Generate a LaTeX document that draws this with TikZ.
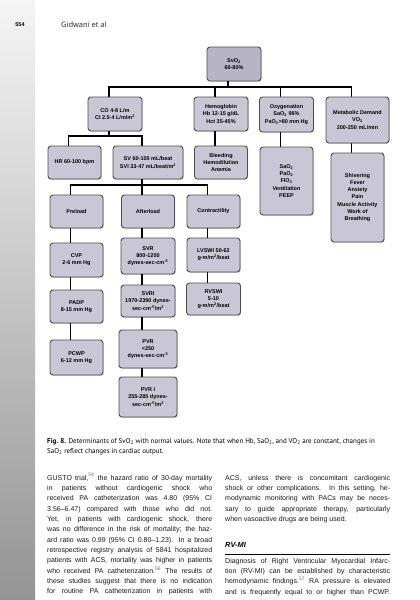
\documentclass[tikz,border=0pt]{standalone}
\usepackage{fontspec}
\setmainfont{Liberation Sans}
\newfontfamily\capfont{PT Sans}
\newfontfamily\headfont{Open Sans}
\usetikzlibrary{shadows}

\definecolor{boxfill}{HTML}{C9C7D5}
\definecolor{topfill}{HTML}{B7B4C6}
\definecolor{boxline}{HTML}{4D4D4D}
\definecolor{refblue}{HTML}{5B6FA5}

\newcommand{\boxfont}{\fontsize{5.5}{7.3}\selectfont\bfseries}
\newcommand{\bodyfont}{\fontsize{7}{10.36}\selectfont}
\newcommand{\dsub}[1]{\textsubscript{#1}}
\newcommand{\usup}[1]{\textsuperscript{#1}}
\newcommand{\refnum}[1]{\textcolor{refblue}{\textsuperscript{#1}}}

\tikzset{
  detbox/.style={draw=boxline, fill=boxfill, line width=0.9pt, rounded corners=3pt,
    align=center, font=\boxfont, inner sep=0pt,
    drop shadow={shadow xshift=0.7pt, shadow yshift=-0.7pt, fill=black!45}},
  conn/.style={line width=1.1pt, black},
  tap/.style={xshift=-6pt},
  bodytext/.style={anchor=base west, inner sep=0pt, text width=165pt, align=justify,
    font=\bodyfont, text=black!90},
}

\begin{document}
\begin{tikzpicture}[x=1pt,y=-1pt]
  \useasboundingbox (0,0) rectangle (420,600);
  \fill[white] (0,0) rectangle (420,600);
  \shade[top color=black!4, bottom color=black!42] (0,0) rectangle (35,600);

  % running head
  \node[font=\fontsize{5.5}{6}\selectfont\bfseries] (pageno) at (20,24.5) {554};
  \node[anchor=base west, inner sep=0pt, font=\headfont\fontsize{7.5}{9}\selectfont, text=black!85] (runhead) at (61,27) {Gidwani et al};

  % top
  \node[detbox, fill=topfill, minimum width=54, minimum height=34] (svo2) at (234,64) {SvO\dsub{2}\\60-80\%};

  % second row
  \node[detbox, minimum width=54, minimum height=34] (co) at (115,114) {CO 4-8 L/m\\CI 2.5-4 L/m/m\usup{2}};
  \node[detbox, minimum width=54, minimum height=34] (hgb) at (221,114) {Hemoglobin\\Hb 12-15 g/dL\\Hct 35-45\%};
  \node[detbox, minimum width=54, minimum height=35] (oxy) at (286.5,114.5) {Oxygenation\\SaO\dsub{2} 96\%\\PaO\dsub{2}>80 mm Hg};
  \node[detbox, minimum width=63, minimum height=46] (meta) at (357.5,120) {Metabolic Demand\\VO\dsub{2}\\200-250 mL/min};

  % third row
  \node[detbox, minimum width=53, minimum height=33] (hr) at (74.5,162.5) {HR 60-100 bpm};
  \node[detbox, minimum width=70, minimum height=33] (sv) at (148,162.5) {SV 60-100 mL/beat\\SVI 33-47 mL/beat/m\usup{2}};
  \node[detbox, minimum width=53, minimum height=33] (bleed) at (221,162.5) {Bleeding\\Hemodilution\\Anemia};
  \node[detbox, minimum width=53, minimum height=68] (sao2) at (286.5,181) {SaO\dsub{2}\\PaO\dsub{2}\\FIO\dsub{2}\\Ventilation\\PEEP};
  \node[detbox, minimum width=53, minimum height=89] (shiv) at (357.5,197.5) {Shivering\\Fever\\Anxiety\\Pain\\Muscle Activity\\Work of\\Breathing};

  % determinants of SV
  \node[detbox, minimum width=53, minimum height=33] (preload) at (76.5,211.5) {Preload};
  \node[detbox, minimum width=53, minimum height=33] (afterload) at (148,211.5) {Afterload};
  \node[detbox, minimum width=53, minimum height=33] (contract) at (213.5,211.5) {Contractility};

  \node[detbox, minimum width=53, minimum height=34] (cvp) at (76.5,260) {CVP\\2-6 mm Hg};
  \node[detbox, minimum width=54, minimum height=36] (svr) at (148,256) {SVR\\800-1200\\dynes-sec-cm\usup{-5}};
  \node[detbox, minimum width=53, minimum height=34] (lvswi) at (213.5,255) {LVSWI 50-62\\g-m/m\usup{2}/beat};

  \node[detbox, minimum width=53, minimum height=33] (padp) at (76.5,306.5) {PADP\\8-15 mm Hg};
  \node[detbox, minimum width=54, minimum height=32] (svri) at (148,301) {SVRI\\1970-2390 dynes-\\sec-cm\usup{-5}/m\usup{2}};
  \node[detbox, minimum width=54, minimum height=32] (rvswi) at (213.5,299) {RVSWI\\5-10\\g-m/m\usup{2}/beat};

  \node[detbox, minimum width=53, minimum height=35] (pcwp) at (76.5,357.5) {PCWP\\6-12 mm Hg};
  \node[detbox, minimum width=58, minimum height=38] (pvr) at (148,349) {PVR\\<250\\dynes-sec-cm\usup{-5}};
  \node[detbox, minimum width=58, minimum height=40] (pvri) at (148,397) {PVR I\\255-285 dynes-\\sec-cm\usup{-5}/m\usup{2}};

  % connectors
  \coordinate (bus1) at (0,87);
  \coordinate (bus2) at (0,136);
  \coordinate (bus3) at (0,185);
  \draw[conn] ([tap]svo2.south) -- ([tap]svo2.south |- bus1);
  \draw[conn] ([tap]co.north) |- ([tap]meta.north |- bus1) -- ([tap]meta.north);
  \draw[conn] ([tap]hgb.north) -- ([tap]hgb.north |- bus1);
  \draw[conn] ([tap]oxy.north) -- ([tap]oxy.north |- bus1);
  \draw[conn] ([tap]co.south) -- ([tap]co.south |- bus2);
  \draw[conn] ([tap]hr.north) |- ([tap]sv.north |- bus2) -- ([tap]sv.north);
  \draw[conn] ([tap]sv.south) -- ([tap]sv.south |- bus3);
  \draw[conn] ([tap]preload.north) |- ([tap]contract.north |- bus3) -- ([tap]contract.north);
  \draw[conn] ([tap]afterload.north) -- ([tap]afterload.north |- bus3);
  \foreach \a/\b in {hgb/bleed, oxy/sao2, meta/shiv, preload/cvp, cvp/padp, padp/pcwp,
                     afterload/svr, svr/svri, svri/pvr, pvr/pvri, contract/lvswi, lvswi/rvswi}
    \draw[conn] ([tap]\a.south) -- ([tap]\b.north);

  % caption
  \node[anchor=base west, inner sep=0pt, font=\capfont\fontsize{7}{8}\selectfont] (cap1) at (47,443.5)
    {\textbf{Fig. 8.} Determinants of SvO\dsub{2} with normal values. Note that when Hb, SaO\dsub{2}, and VO\dsub{2} are constant, changes in};
  \node[anchor=base west, inner sep=0pt, font=\capfont\fontsize{7}{8}\selectfont] (cap2) at (47,453.5)
    {SaO\dsub{2} reflect changes in cardiac output.};

  % body text
  \node[bodytext] (leftcol) at (47,480) {
    GUSTO trial,\refnum{54} the hazard ratio of 30-day mortality\linebreak
    in patients without cardiogenic shock who\linebreak
    received PA catheterization was 4.80 (95\% CI\linebreak
    3.56--6.47) compared with those who did not.\linebreak
    Yet, in patients with cardiogenic shock, there\linebreak
    was no difference in the risk of mortality; the haz-\linebreak
    ard ratio was 0.99 (95\% CI 0.80--1.23). In a broad\linebreak
    retrospective registry analysis of 5841 hospitalized\linebreak
    patients with ACS, mortality was higher in patients\linebreak
    who received PA catheterization.\refnum{56} The results of\linebreak
    these studies suggest that there is no indication\linebreak
    for routine PA catheterization in patients with\linebreak\null};
  \node[bodytext] (rightcol) at (225,480) {
    ACS, unless there is concomitant cardiogenic\linebreak
    shock or other complications. In this setting, he-\linebreak
    modynamic monitoring with PACs may be neces-\linebreak
    sary to guide appropriate therapy, particularly\linebreak
    when vasoactive drugs are being used.};
  \node[anchor=base west, inner sep=0pt, font=\fontsize{7.4}{9}\selectfont\bfseries\itshape] (rvmi) at (225,547) {RV-MI};
  \draw[line width=0.9pt] (225,554) -- (390,554);
  \node[bodytext] (rvtext) at (225,563) {
    Diagnosis of Right Ventricular Myocardial Infarc-\linebreak
    tion (RV-MI) can be established by characteristic\linebreak
    hemodynamic findings.\refnum{57} RA pressure is elevated\linebreak
    and is frequently equal to or higher than PCWP.\linebreak\null};
\end{tikzpicture}
\end{document}
